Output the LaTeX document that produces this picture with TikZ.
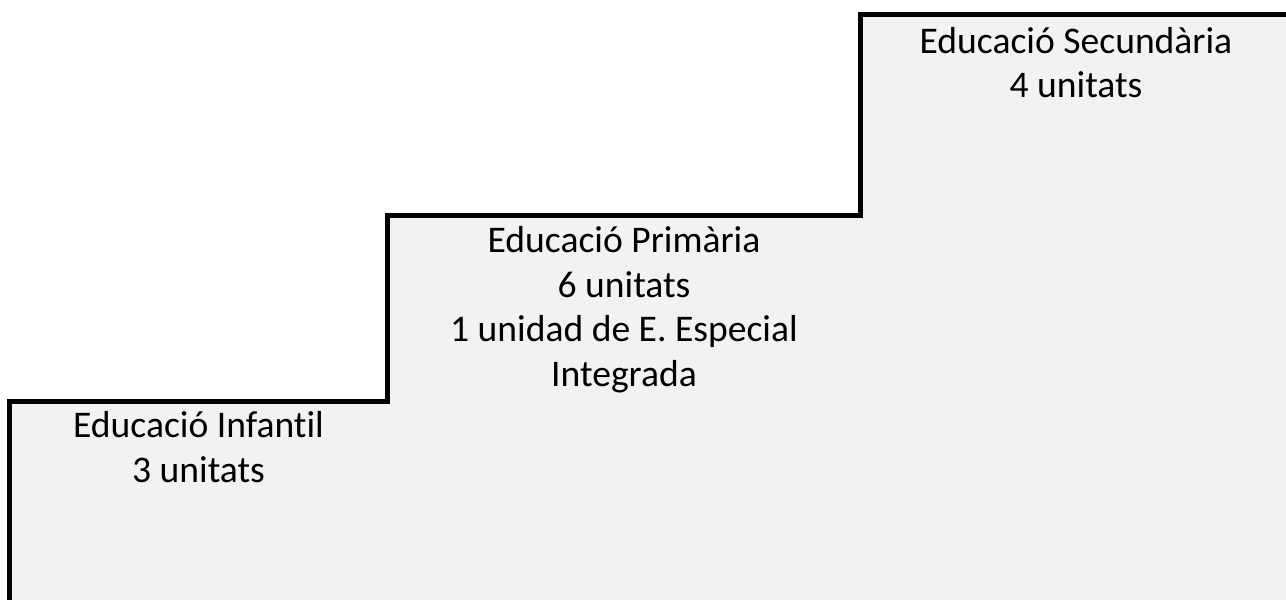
\documentclass[tikz,border=0pt]{standalone}
\usepackage{fontspec}
\setmainfont{Carlito}[Ligatures=NoCommon]

\begin{document}
\begin{tikzpicture}[x=0.5pt,y=-0.5pt]
    \useasboundingbox (0,0) rectangle (1286,600);

    \coordinate (s1) at (9.5, 600);
    \coordinate (s2) at (9.5, 401.5);
    \coordinate (s3) at (387.5, 401.5);
    \coordinate (s4) at (387.5, 215.5);
    \coordinate (s5) at (860.5, 215.5);
    \coordinate (s6) at (860.5, 14.5);
    \coordinate (s7) at (1286, 14.5);
    \coordinate (s8) at (1286, 600);

    \fill[fill={rgb,255:red,242;green,242;blue,242}] (s1) -- (s2) -- (s3) -- (s4) -- (s5) -- (s6) -- (s7) -- (s8) -- cycle;
    \draw[line width=2.5pt, miter limit=10] (s1) -- (s2) -- (s3) -- (s4) -- (s5) -- (s6) -- (s7);

    % base anchor sits on the last line
    \node[anchor=base, align=center, inner sep=0pt, font=\fontsize{18.8}{22.2}\selectfont] (infantil) at (198.5, 482)
        {Educació Infantil\\3 unitats};
    \node[anchor=base, align=center, inner sep=0pt, font=\fontsize{18.8}{22.2}\selectfont] (primaria) at (624, 386)
        {Educació Primària\\6 unitats\\1 unidad de E. Especial\\Integrada};
    \node[anchor=base, align=center, inner sep=0pt, font=\fontsize{18.8}{22.2}\selectfont] (secundaria) at (1076, 97.5)
        {Educació Secundària\\4 unitats};
\end{tikzpicture}
\end{document}
